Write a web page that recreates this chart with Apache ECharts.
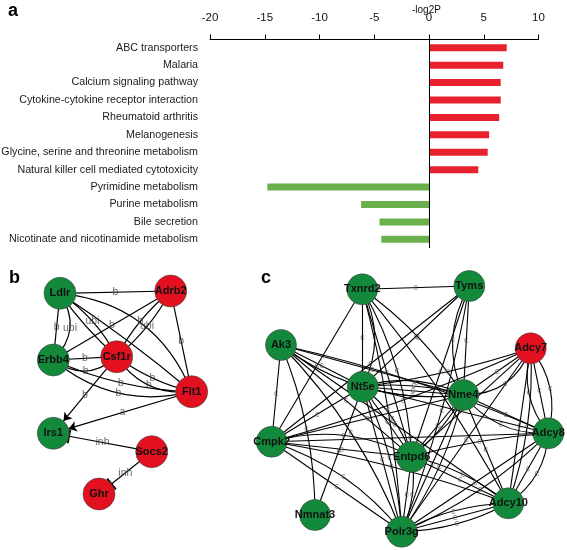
<!DOCTYPE html>
<html><head><meta charset="utf-8">
<script src="https://cdn.jsdelivr.net/npm/echarts@6/dist/echarts.min.js"></script>
<style>html,body{margin:0;padding:0;background:#fff}#c{width:567px;height:550px}</style>
</head><body><div id="c"></div>
<script>
// ---------- panel a data ----------
const categories = [
  'ABC transporters', 'Malaria', 'Calcium signaling pathway',
  'Cytokine-cytokine receptor interaction', 'Rheumatoid arthritis', 'Melanogenesis',
  'Glycine, serine and threonine metabolism', 'Natural killer cell mediated cytotoxicity',
  'Pyrimidine metabolism', 'Purine metabolism', 'Bile secretion',
  'Nicotinate and nicotinamide metabolism'
];
const log2pValues = [7.1, 6.78, 6.55, 6.55, 6.41, 5.49, 5.36, 4.5, -14.76, -6.2, -4.52, -4.36];
const xMin = -20, xMax = 10, xStep = 5;

// ---------- panel b data (network) ----------
const bNodeNames = ['Ldlr', 'Adrb2', 'Erbb4', 'Csf1r', 'Flt1', 'Irs1', 'Socs2', 'Ghr'];
const bNodeX = [2.0, 13.07, 1.33, 7.67, 15.17, 1.33, 11.17, 5.9];
const bNodeY = [1.33, 1.1, 8.0, 7.67, 11.17, 15.33, 17.17, 21.4];
const bNodeUp = [false, true, false, true, true, false, true, true];
const bEdgeSource = ['Ldlr','Ldlr','Ldlr','Ldlr','Ldlr','Ldlr','Ldlr','Adrb2','Adrb2','Adrb2','Adrb2','Erbb4','Erbb4','Erbb4','Erbb4','Csf1r','Csf1r','Csf1r','Flt1','Socs2','Socs2'];
const bEdgeTarget = ['Adrb2','Erbb4','Erbb4','Csf1r','Csf1r','Flt1','Flt1','Erbb4','Csf1r','Csf1r','Flt1','Csf1r','Csf1r','Flt1','Flt1','Flt1','Flt1','Irs1','Irs1','Irs1','Ghr'];
const bEdgeRel = ['b','b','ubi','ubi','','','','b','ubi','b','b','b','b','b','b','b','b','b','a','inh','inh'];
const bEdgeKind = ['-','-','-','-','-','-','-','-','-','-','-','-','-','-','-','-','-','arrow','arrow','inh','inh'];
const bEdgeCurve = [0, 0, 0.4, 0.13, -0.06, 0.3, 0.03, 0, 0.1, -0.1, 0, 0, -0.4, -0.1, -0.25, -0.1, -0.3, 0, 0, 0, 0];

// ---------- panel c data (network) ----------
const cNodeNames = ['Txnrd2','Tyms','Ak3','Adcy7','Nt5e','Nme4','Cmpk2','Adcy8','Entpd6','Adcy10','Nmnat3','Polr3g'];
const cNodeX = [10.23, 20.93, 2.1, 27.07, 10.27, 20.33, 1.17, 28.83, 15.17, 24.83, 5.5, 14.17];
const cNodeY = [0.93, 0.6, 6.5, 6.83, 10.67, 11.5, 16.17, 15.33, 17.67, 22.33, 23.5, 25.17];
const cNodeUp = [false,false,false,true,false,false,false,false,false,false,false,false];
const cEdgeSource = [
  'Txnrd2','Txnrd2','Txnrd2','Txnrd2','Txnrd2','Txnrd2','Txnrd2','Txnrd2','Txnrd2',
  'Tyms','Tyms','Tyms','Tyms','Tyms','Tyms',
  'Ak3','Ak3','Ak3','Ak3','Ak3','Ak3','Ak3','Ak3','Ak3',
  'Adcy7','Adcy7','Adcy7','Adcy7','Adcy7','Adcy7','Adcy7','Adcy7','Adcy7','Adcy7','Adcy7',
  'Nt5e','Nt5e','Nt5e','Nt5e','Nt5e','Nt5e','Nt5e','Nt5e','Nt5e','Nt5e','Nt5e',
  'Nme4','Nme4','Nme4','Nme4','Nme4','Nme4','Nme4','Nme4',
  'Cmpk2','Cmpk2','Cmpk2','Cmpk2','Cmpk2','Cmpk2',
  'Entpd6','Entpd6','Entpd6','Entpd6','Entpd6',
  'Adcy8','Adcy8','Adcy8','Adcy8',
  'Adcy10','Adcy10','Adcy10'
];
const cEdgeTarget = [
  'Tyms','Nt5e','Nt5e','Cmpk2','Entpd6','Polr3g','Nme4','Adcy10','Entpd6',
  'Nt5e','Nme4','Nme4','Entpd6','Polr3g','Cmpk2',
  'Cmpk2','Nt5e','Nme4','Nme4','Entpd6','Adcy8','Polr3g','Adcy10','Nmnat3',
  'Nt5e','Nme4','Nme4','Adcy8','Adcy8','Adcy8','Adcy10','Adcy10','Polr3g','Entpd6','Cmpk2',
  'Nme4','Nme4','Nme4','Nme4','Entpd6','Entpd6','Polr3g','Polr3g','Nmnat3','Cmpk2','Adcy8',
  'Cmpk2','Entpd6','Entpd6','Polr3g','Polr3g','Adcy10','Adcy8','Adcy8',
  'Entpd6','Entpd6','Polr3g','Polr3g','Adcy8','Adcy10',
  'Polr3g','Polr3g','Adcy10','Adcy10','Adcy8',
  'Polr3g','Polr3g','Adcy10','Adcy10',
  'Polr3g','Polr3g','Polr3g'
];
const cEdgeCurve = [
  0, 0, 0.25, 0, 0, 0.05, 0.1, 0.05, 0.12,
  0, 0, -0.25, 0, 0.05, 0,
  0, 0, 0, -0.2, 0, 0.05, 0.1, 0, 0.1,
  0.05, 0, 0.35, 0.25, -0.25, 0, 0, 0.1, 0, 0, 0.04,
  0, 0.1, -0.1, 0.2, 0, 0.15, 0, 0.1, 0, 0, 0,
  0, 0, 0.1, 0, 0.1, 0, -0.25, 0,
  0, 0.2, 0, 0.15, 0, 0.05,
  0, 0.15, 0, 0.12, 0.05,
  0, 0.1, 0, 0.25,
  0, 0.12, -0.12
];

// ---------- styles ----------
const RED_BAR = '#e8212e', GREEN_BAR = '#6ab04c';
const RED_NODE = '#e3101f', GREEN_NODE = '#13893b';
const FONT = 'Liberation Sans, Arial, sans-serif';
// inhibition bar: a horizontal bar in a square frame (tiny corner specks keep the frame square)
const TBAR = 'path://M10,0L10.01,0L10,0.01ZM0,8.6L20,8.6L20,11.4L0,11.4ZM10,20L10.01,20L10,19.99Z';

function buildNodes(names, xs, ys, ups) {
  return names.map((n, i) => ({
    name: n, value: [xs[i], ys[i]],
    itemStyle: { color: ups[i] ? RED_NODE : GREEN_NODE }
  }));
}
const bLinks = bEdgeSource.map((s, i) => {
  const l = { source: s, target: bEdgeTarget[i], lineStyle: { curveness: bEdgeCurve[i] } };
  if (bEdgeKind[i] === 'arrow') { l.symbol = ['none', 'arrow']; l.symbolSize = [0, 8]; }
  else if (bEdgeKind[i] === 'inh') { l.symbol = ['none', TBAR]; l.symbolSize = [0, 14]; }
  return l;
});
const cLinks = cEdgeSource.map((s, i) => ({
  source: s, target: cEdgeTarget[i], lineStyle: { curveness: cEdgeCurve[i] }
}));

const nodeLabel = { show: true, position: 'inside', color: '#111', fontWeight: 'bold', fontSize: 11, fontFamily: FONT };

const chart = echarts.init(document.getElementById('c'), null, { renderer: 'canvas' });
chart.setOption({
  animation: false,
  backgroundColor: '#fff',
  title: [
    { text: 'a', left: 3, top: -3, textStyle: { fontSize: 18, fontWeight: 'bold', color: '#000', fontFamily: FONT } },
    { text: '-log2P', left: 407, top: 0, textStyle: { fontSize: 10, fontWeight: 'normal', color: '#111', fontFamily: FONT } },
    { text: 'b', left: 4, top: 264, textStyle: { fontSize: 18, fontWeight: 'bold', color: '#000', fontFamily: FONT } },
    { text: 'c', left: 256, top: 264, textStyle: { fontSize: 18, fontWeight: 'bold', color: '#000', fontFamily: FONT } }
  ],
  grid: [
    { left: 210, top: 39, width: 328.5, height: 209, containLabel: false, outerBoundsMode: 'none' },
    { left: 40, top: 280, width: 160, height: 220, containLabel: false, outerBoundsMode: 'none' },
    { left: 260, top: 280, width: 300, height: 260, containLabel: false, outerBoundsMode: 'none' }
  ],
  xAxis: [
    { type: 'value', gridIndex: 0, position: 'top', min: xMin, max: xMax, interval: xStep,
      axisLine: { show: true, onZero: false, lineStyle: { color: '#000', width: 1 } },
      axisTick: { show: true, inside: false, length: 4.5, lineStyle: { color: '#000' } },
      axisLabel: { margin: 15, fontSize: 11.5, color: '#111', fontFamily: FONT },
      splitLine: { show: false } },
    { type: 'value', gridIndex: 1, min: 0, max: 16, show: false },
    { type: 'value', gridIndex: 2, min: 0, max: 30, show: false }
  ],
  yAxis: [
    { type: 'category', gridIndex: 0, data: categories, inverse: true,
      axisLine: { show: false, onZero: false }, axisTick: { show: false },
      axisLabel: { margin: 12, fontSize: 10.7, color: '#1a1a1a', fontFamily: FONT } },
    { type: 'value', gridIndex: 1, min: 0, max: 22, inverse: true, show: false },
    { type: 'value', gridIndex: 2, min: 0, max: 26, inverse: true, show: false }
  ],
  series: [
    { type: 'bar', xAxisIndex: 0, yAxisIndex: 0, data: log2pValues, barWidth: 7,
      itemStyle: { color: p => (p.value > 0 ? RED_BAR : GREEN_BAR) },
      markLine: { silent: true, symbol: 'none', label: { show: false },
        lineStyle: { color: '#000', width: 1, type: 'solid' }, data: [{ xAxis: 0 }] } },
    { type: 'graph', coordinateSystem: 'cartesian2d', xAxisIndex: 1, yAxisIndex: 1,
      symbol: 'circle', symbolSize: 32, z: 3,
      itemStyle: { borderColor: '#444', borderWidth: 0.6 },
      label: nodeLabel,
      lineStyle: { color: '#000', width: 1.2, opacity: 1 },
      data: buildNodes(bNodeNames, bNodeX, bNodeY, bNodeUp),
      links: bLinks },
    { type: 'graph', coordinateSystem: 'cartesian2d', xAxisIndex: 2, yAxisIndex: 2,
      symbol: 'circle', symbolSize: 31, z: 3,
      itemStyle: { borderColor: '#444', borderWidth: 0.6 },
      label: nodeLabel,
      lineStyle: { color: '#000', width: 1.1, opacity: 1 },
      data: buildNodes(cNodeNames, cNodeX, cNodeY, cNodeUp),
      links: cLinks }
  ]
});

// Upright edge labels placed at each edge's curve midpoint, computed through the grids' scales.
function edgeLabelPoints(gridIndex, names, xs, ys, srcs, tgts, curves, rels) {
  const pts = [];
  srcs.forEach((s, i) => {
    if (!rels[i]) return;
    const a = names.indexOf(s), b = names.indexOf(tgts[i]);
    const p1 = chart.convertToPixel({ gridIndex }, [xs[a], ys[a]]);
    const p2 = chart.convertToPixel({ gridIndex }, [xs[b], ys[b]]);
    const c = curves[i] || 0;
    const cp = [(p1[0] + p2[0]) / 2 - (p1[1] - p2[1]) * c, (p1[1] + p2[1]) / 2 - (p2[0] - p1[0]) * c];
    const m = [0.25 * p1[0] + 0.5 * cp[0] + 0.25 * p2[0], 0.25 * p1[1] + 0.5 * cp[1] + 0.25 * p2[1]];
    const v = chart.convertFromPixel({ gridIndex }, m);
    pts.push({ value: v, rel: rels[i] });
  });
  return pts;
}
const cRels = cEdgeSource.map(() => 'c');
chart.setOption({
  series: [
    {}, {}, {},
    { type: 'scatter', xAxisIndex: 1, yAxisIndex: 1, z: 5, silent: true,
      symbolSize: 1, itemStyle: { color: 'rgba(0,0,0,0)' },
      label: { show: true, position: 'inside', fontSize: 10.5, color: '#444', fontFamily: FONT,
        formatter: p => p.data.rel },
      data: edgeLabelPoints(1, bNodeNames, bNodeX, bNodeY, bEdgeSource, bEdgeTarget, bEdgeCurve, bEdgeRel) },
    { type: 'scatter', xAxisIndex: 2, yAxisIndex: 2, z: 5, silent: true,
      symbolSize: 1, itemStyle: { color: 'rgba(0,0,0,0)' },
      label: { show: true, position: 'inside', fontSize: 9, color: '#555', fontFamily: FONT,
        formatter: p => p.data.rel },
      data: edgeLabelPoints(2, cNodeNames, cNodeX, cNodeY, cEdgeSource, cEdgeTarget, cEdgeCurve, cRels) }
  ]
});
</script></body></html>
